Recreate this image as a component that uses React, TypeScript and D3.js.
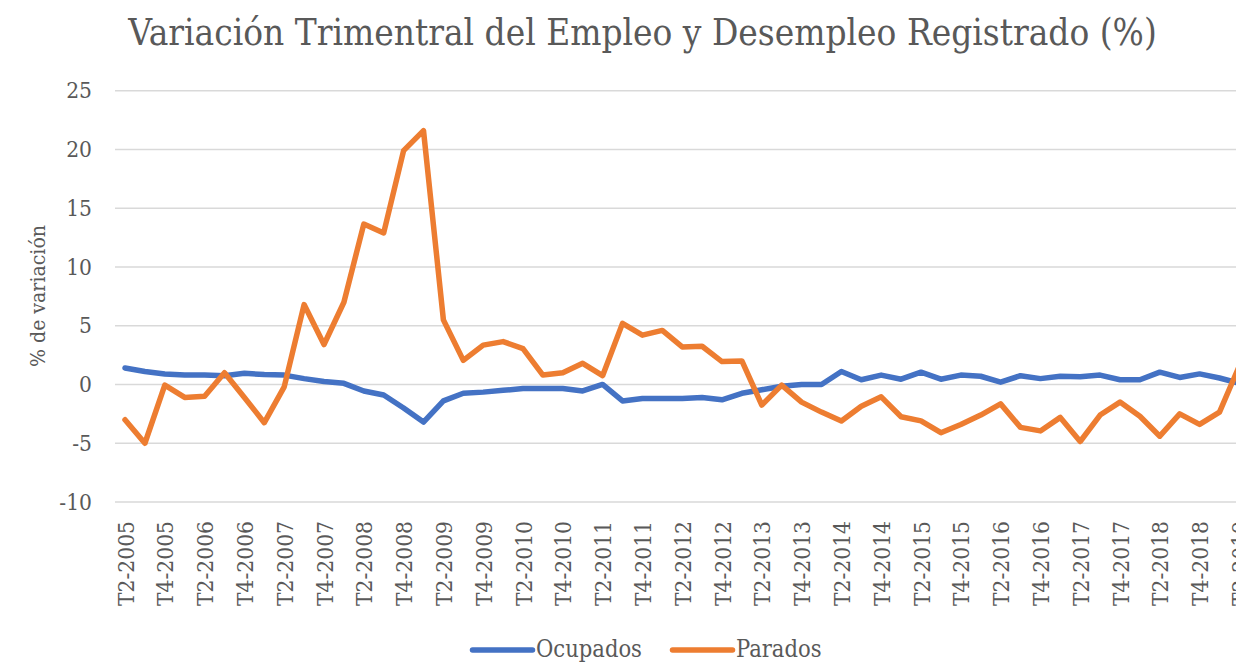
import React, { useEffect, useRef } from 'react';
import * as d3 from 'd3';

// trimestres T2-2005 .. T2-2019
const trimestres = [
  'T2-2005', 'T3-2005', 'T4-2005',
  'T1-2006', 'T2-2006', 'T3-2006', 'T4-2006',
  'T1-2007', 'T2-2007', 'T3-2007', 'T4-2007',
  'T1-2008', 'T2-2008', 'T3-2008', 'T4-2008',
  'T1-2009', 'T2-2009', 'T3-2009', 'T4-2009',
  'T1-2010', 'T2-2010', 'T3-2010', 'T4-2010',
  'T1-2011', 'T2-2011', 'T3-2011', 'T4-2011',
  'T1-2012', 'T2-2012', 'T3-2012', 'T4-2012',
  'T1-2013', 'T2-2013', 'T3-2013', 'T4-2013',
  'T1-2014', 'T2-2014', 'T3-2014', 'T4-2014',
  'T1-2015', 'T2-2015', 'T3-2015', 'T4-2015',
  'T1-2016', 'T2-2016', 'T3-2016', 'T4-2016',
  'T1-2017', 'T2-2017', 'T3-2017', 'T4-2017',
  'T1-2018', 'T2-2018', 'T3-2018', 'T4-2018',
  'T1-2019', 'T2-2019',
];

const ocupados = [
  1.4, 1.1, 0.9, 0.8, 0.8, 0.75, 0.95, 0.85, 0.8, 0.5,
  0.25, 0.1, -0.55, -0.9, -2.0, -3.2, -1.4, -0.75, -0.65, -0.5,
  -0.35, -0.35, -0.35, -0.55, 0.0, -1.4, -1.2, -1.2, -1.2, -1.1,
  -1.3, -0.75, -0.45, -0.15, 0.0, 0.0, 1.1, 0.4, 0.8, 0.45,
  1.05, 0.45, 0.8, 0.7, 0.2, 0.75, 0.5, 0.7, 0.65, 0.8,
  0.4, 0.4, 1.05, 0.6, 0.9, 0.55, 0.1,
];

const parados = [
  -3.0, -5.0, -0.05, -1.1, -1.0, 1.0, -1.1, -3.25, -0.2, 6.8,
  3.4, 7.0, 13.65, 12.9, 19.9, 21.6, 5.5, 2.05, 3.35, 3.65,
  3.05, 0.8, 1.0, 1.8, 0.75, 5.2, 4.2, 4.6, 3.2, 3.25,
  1.95, 2.0, -1.75, -0.05, -1.5, -2.35, -3.1, -1.85, -1.05, -2.75,
  -3.1, -4.1, -3.4, -2.6, -1.65, -3.65, -3.95, -2.8, -4.85, -2.6,
  -1.5, -2.7, -4.4, -2.5, -3.4, -2.35, 1.6,
];

const yTicks = [-10, -5, 0, 5, 10, 15, 20, 25];

const series = [
  { name: 'Ocupados', values: ocupados, color: '#4472C4' },
  { name: 'Parados', values: parados, color: '#ED7D31' },
];

const W = 1236;
const H = 663;
const FONT = "'DejaVu Serif Condensed', 'DejaVu Serif', serif";
const GREY = '#595959';

// tamaño de letra para que un texto mida lo mismo que en la imagen
const fitSize = (svg: any, text: string, width: number) => {
  const t = svg.append('text').style('font-family', FONT).style('font-size', '100px').text(text);
  const w = (t.node() as SVGTextElement).getComputedTextLength();
  t.remove();
  return (100 * width) / w;
};

export default function App() {
  const svgRef = useRef<SVGSVGElement>(null);

  useEffect(() => {
    const svg = d3.select(svgRef.current);
    svg.selectAll('*').remove();

    const titleSize = fitSize(svg, 'Variación Trimentral del Empleo y Desempleo Registrado (%)', 1029);
    const tickSize = fitSize(svg, 'T4-2017', 85);
    const legendSize = fitSize(svg, 'Ocupados', 106);
    const axisTitleSize = fitSize(svg, '% de variación', 142);

    const x = d3.scalePoint<string>().domain(trimestres).range([125, 1239.4]);
    const y = d3.scaleLinear().domain([-10, 25]).range([502, 90.7]);

    // gridlines
    svg.append('g')
      .selectAll('line')
      .data(yTicks)
      .join('line')
      .attr('x1', 115)
      .attr('x2', 1252)
      .attr('y1', d => y(d))
      .attr('y2', d => y(d))
      .attr('stroke', '#d9d9d9')
      .attr('stroke-width', 1.6);

    // eje Y
    const gy = svg.append('g')
      .attr('transform', 'translate(115,0)')
      .call(d3.axisLeft(y).tickValues(yTicks).tickFormat(d => String(d)).tickSize(0).tickPadding(23));
    gy.select('.domain').remove();
    gy.attr('font-family', null).attr('font-size', null);
    gy.selectAll('text')
      .style('font-family', FONT)
      .style('font-size', `${tickSize}px`)
      .attr('fill', GREY);

    // eje X, una etiqueta cada dos trimestres
    const gx = svg.append('g')
      .attr('transform', `translate(0,${y(-10)})`)
      .call(d3.axisBottom(x).tickValues(trimestres.filter((_, i) => i % 2 === 0)).tickSize(0));
    gx.select('.domain').remove();
    gx.attr('font-family', null).attr('font-size', null);
    gx.selectAll('text')
      .style('font-family', FONT)
      .style('font-size', `${tickSize}px`)
      .attr('fill', GREY)
      .attr('transform', 'rotate(-90)')
      .attr('text-anchor', 'end')
      .attr('x', -19)
      .attr('y', 0)
      .attr('dy', '0.36em');

    // lineas
    const line = d3.line<number>()
      .x((_, i) => x(trimestres[i]) as number)
      .y(d => y(d));

    series.forEach(s => {
      svg.append('path')
        .datum(s.values)
        .attr('d', line)
        .attr('fill', 'none')
        .attr('stroke', s.color)
        .attr('stroke-width', 5.5)
        .attr('stroke-linejoin', 'round')
        .attr('stroke-linecap', 'round');
    });

    // titulo
    svg.append('text')
      .attr('x', 642.5)
      .attr('y', 45)
      .attr('text-anchor', 'middle')
      .style('font-family', FONT)
      .style('font-size', `${titleSize}px`)
      .attr('fill', GREY)
      .text('Variación Trimentral del Empleo y Desempleo Registrado (%)');

    // titulo eje Y
    svg.append('text')
      .attr('transform', 'translate(45,296) rotate(-90)')
      .attr('text-anchor', 'middle')
      .style('font-family', FONT)
      .style('font-size', `${axisTitleSize}px`)
      .attr('fill', GREY)
      .text('% de variación');

    // leyenda
    const legendX = [470, 670];
    const lg = svg.append('g')
      .selectAll('g')
      .data(series)
      .join('g')
      .attr('transform', (_, i) => `translate(${legendX[i]},650)`);
    lg.append('line')
      .attr('x1', 2.5)
      .attr('x2', 62.5)
      .attr('stroke', d => d.color)
      .attr('stroke-width', 5.5)
      .attr('stroke-linecap', 'round');
    lg.append('text')
      .attr('x', 66)
      .attr('y', 6.5)
      .style('font-family', FONT)
      .style('font-size', `${legendSize}px`)
      .attr('fill', GREY)
      .text(d => d.name);
  }, []);

  return (
    <svg
      ref={svgRef}
      width={W}
      height={H}
      style={{ position: 'absolute', left: 0, top: 0, background: '#fff' }}
    />
  );
}
